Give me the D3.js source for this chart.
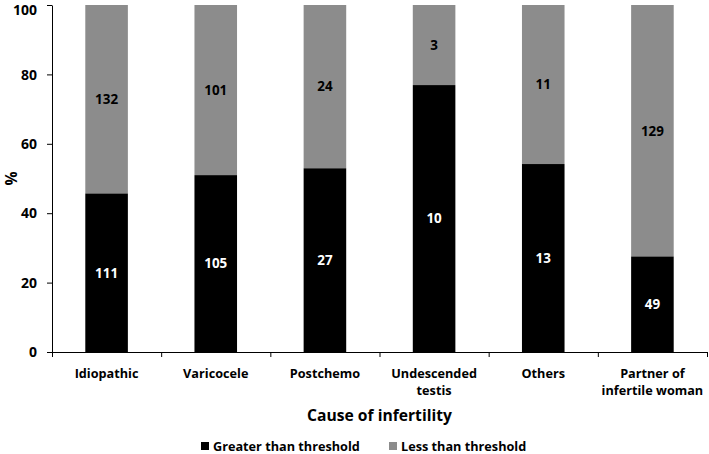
<!DOCTYPE html>
<html><head><meta charset="utf-8">
<script src="https://cdn.jsdelivr.net/npm/d3@7"></script>
<style>body{margin:0;background:#fff}svg{display:block;font-family:"Open Sans",Lato,sans-serif;font-weight:bold}</style>
</head><body><svg id="c" width="709" height="454"></svg>
<script>
const categories = [["Idiopathic"],["Varicocele"],["Postchemo"],["Undescended","testis"],["Others"],["Partner of","infertile woman"]];
const greater = [111,105,27,10,13,49];
const less = [132,101,24,3,11,129];
const yTicks = [0,20,40,60,80,100];
const seriesNames = ["Greater than threshold","Less than threshold"];
const colors = ["#000000","#8c8c8c"];

(function(){
const svg = d3.select("#c");
const pl=52, pr=707, pt=5, pb=352;
const x = d3.scaleBand().domain(d3.range(categories.length)).range([pl,pr]).paddingInner(0.61).paddingOuter(0.305);
const y = d3.scaleLinear().domain([0,100]).range([pb,pt]);

function fitSize(sample, width){
  const t = svg.append("text").attr("font-size",100).text(sample);
  const w = t.node().getComputedTextLength(); t.remove();
  return 100*width/w;
}
const catSize = fitSize("Idiopathic",64);
const numSize = fitSize("111",23);
const legSize = fitSize("Greater than threshold",147);
const titleSize = fitSize("Cause of infertility",145);
const tickSize = fitSize("100",24);

const data = greater.map((g,i)=>{const t=g+less[i];return {i,g,l:less[i],pg:g/t*100};});

const gBars = svg.append("g");
data.forEach(d=>{
  gBars.append("rect").attr("x",x(d.i)).attr("width",x.bandwidth()).attr("y",y(100)).attr("height",y(d.pg)-y(100)).attr("fill",colors[1]);
  gBars.append("rect").attr("x",x(d.i)).attr("width",x.bandwidth()).attr("y",y(d.pg)).attr("height",y(0)-y(d.pg)).attr("fill",colors[0]);
  gBars.append("text").attr("x",x(d.i)+x.bandwidth()/2).attr("y",(y(0)+y(d.pg))/2).attr("dy","0.36em").attr("text-anchor","middle").attr("fill","#fff").attr("font-size",numSize).text(d.g);
  gBars.append("text").attr("x",x(d.i)+x.bandwidth()/2).attr("y",(y(100)+y(d.pg))/2).attr("dy","0.36em").attr("text-anchor","middle").attr("fill","#000").attr("font-size",numSize).text(d.l);
});

const ya = svg.append("g").attr("transform",`translate(${pl},0)`).call(d3.axisLeft(y).tickValues(yTicks).tickSize(5).tickSizeOuter(0).tickPadding(10));
ya.select(".domain").attr("stroke","#000");
ya.selectAll("text").attr("font-size",tickSize).attr("font-weight","bold").attr("font-family","'Open Sans',sans-serif").attr("fill","#000")
  .attr("dy",d=>d===100?"0.68em":"0.34em");

const xEdge = d3.scaleLinear().domain([0,categories.length]).range([pl,pr]);
const xa = svg.append("g");
xa.append("line").attr("x1",pl).attr("x2",pr).attr("y1",pb+0.5).attr("y2",pb+0.5).attr("stroke","#000");
d3.range(categories.length+1).forEach(k=>{
  xa.append("line").attr("x1",xEdge(k)+0.5).attr("x2",xEdge(k)+0.5).attr("y1",pb).attr("y2",pb+5).attr("stroke","#000");
});
categories.forEach((c,i)=>{
  const t = xa.append("text").attr("x",x(i)+x.bandwidth()/2).attr("y",378).attr("text-anchor","middle").attr("font-size",catSize).attr("fill","#000");
  c.forEach((line,j)=>t.append("tspan").attr("x",x(i)+x.bandwidth()/2).attr("dy",j===0?0:16.5).text(line));
});

svg.append("text").attr("x",(pl+pr)/2).attr("y",421).attr("text-anchor","middle").attr("font-size",titleSize).text("Cause of infertility");
svg.append("text").attr("transform",`translate(17,${(pt+pb)/2}) rotate(-90)`).attr("text-anchor","middle").attr("font-size",titleSize).text("%");

const legX=[201,389];
seriesNames.forEach((n,k)=>{
  svg.append("rect").attr("x",legX[k]).attr("y",442).attr("width",8).attr("height",8).attr("fill",colors[k]);
  svg.append("text").attr("x",legX[k]+12).attr("y",451).attr("font-size",legSize).text(n);
});
})();
</script></body></html>
